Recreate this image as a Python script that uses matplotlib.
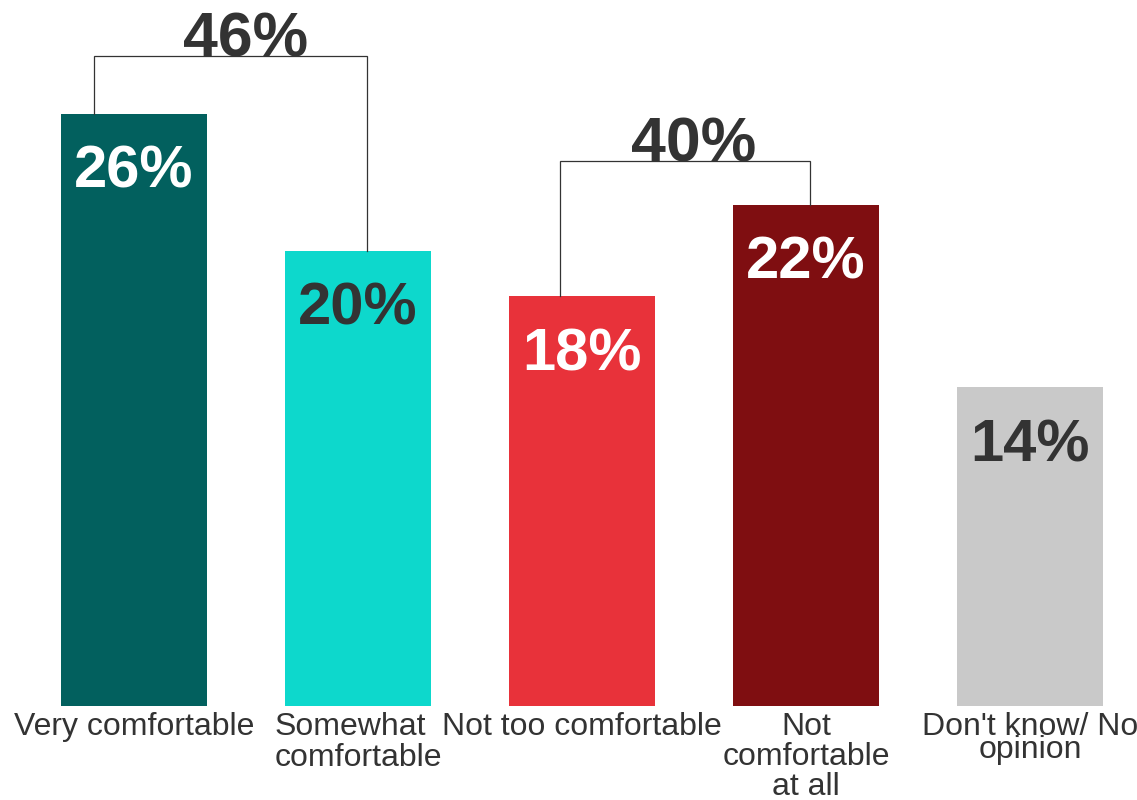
import numpy as np
import matplotlib
matplotlib.use("Agg")
import matplotlib.pyplot as plt

plt.rcParams['font.family'] = ['Liberation Sans', 'DejaVu Sans']

categories = ["Very comfortable", "Somewhat\ncomfortable", "Not too comfortable",
              "Not\ncomfortable\nat all", "Don't know/ No\nopinion"]
values = [26, 20, 18, 22, 14]
bar_labels = ["26%", "20%", "18%", "22%", "14%"]

# combined groups: (first bar, second bar, label)
groups = [(0, 1, "46%"), (2, 3, "40%")]

colors = ["#02605E", "#0DD8CC", "#E8323A", "#7F0E11", "#C9C9C9"]
text_colors = ["white", "#333333", "white", "white", "#333333"]
dark = "#333333"

fig = plt.figure(figsize=(11.37, 8), dpi=100)
ax = fig.add_axes([0, 94 / 800, 1, 706 / 800])

x = np.arange(len(values))
ax.bar(x, values, width=0.65, color=colors)

for xi, v, lab, tc in zip(x, values, bar_labels, text_colors):
    ax.text(xi, v - 3.25, lab, ha="center", va="baseline", color=tc,
            fontsize=43, fontweight="bold")

# brackets over grouped bars
bracket_y = [28.53, 23.92]
offsets = [(-0.18, 0.04), (-0.1, 0.02)]
for (a, b, lab), by, (oa, ob) in zip(groups, bracket_y, offsets):
    xa, xb = x[a] + oa, x[b] + ob
    ax.plot([xa, xa, xb, xb], [values[a], by, by, values[b]],
            color=dark, lw=0.9, solid_joinstyle="miter")
    ax.text((x[a] + x[b]) / 2, by, lab, ha="center", va="baseline",
            color=dark, fontsize=45, fontweight="bold")

ax.set_xticks(x, categories)
spacings = [1.05, 1.05, 1.05, 1.0, 0.7]
aligns = ["center", "left", "center", "center", "center"]
for lbl, ls, al in zip(ax.get_xticklabels(), spacings, aligns):
    lbl.set_linespacing(ls)
    lbl.set_multialignment(al)
ax.tick_params(axis="x", length=0, pad=4, labelsize=23, labelcolor=dark)
ax.set_yticks([])

ax.set_xlim(-0.598, 4.478)
ax.set_ylim(0, 31.0)
for s in ax.spines.values():
    s.set_visible(False)

fig.savefig("out.png", dpi=100)
